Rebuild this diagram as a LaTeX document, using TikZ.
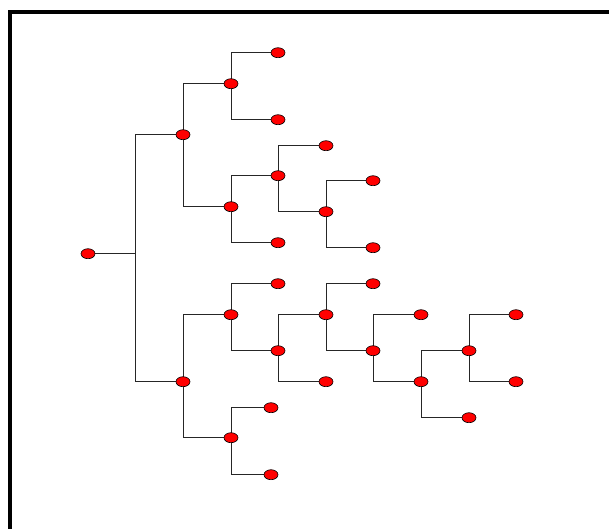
\documentclass[tikz,border=0pt]{standalone}
\usetikzlibrary{shapes.geometric,backgrounds}
\begin{document}
\begin{tikzpicture}[x=1pt,y=-1pt,
  nd/.style={ellipse,draw=black,fill=red,line width=0.6pt,minimum width=14pt,minimum height=10pt,inner sep=0pt},
  edge/.style={draw=black!85,line width=0.8pt}]
\useasboundingbox (0,0) rectangle (609,528);
\draw[line width=4pt,line join=miter] (10,530) -- (10,12) -- (612,12);
\begin{scope}[yshift=-0.7pt]
% nodes
\node[nd] (r) at (88,253) {};
\node[nd] (a1) at (183,134) {};
\node[nd] (a2) at (183,381) {};
\node[nd] (b1) at (231,83) {};
\node[nd] (b2) at (231,206) {};
\node[nd] (b1a) at (278,52) {};
\node[nd] (b1b) at (278,119) {};
\node[nd] (c1) at (278,175) {};
\node[nd] (b2b) at (278,242) {};
\node[nd] (c1a) at (326,145) {};
\node[nd] (d1) at (326,211) {};
\node[nd] (d1a) at (373,180) {};
\node[nd] (d1b) at (373,247) {};
\node[nd] (b3) at (231,314) {};
\node[nd] (b4) at (231,437) {};
\node[nd] (b3a) at (278,283) {};
\node[nd] (c2) at (278,350) {};
\node[nd] (d2) at (326,314) {};
\node[nd] (c2b) at (326,381) {};
\node[nd] (d2a) at (373,283) {};
\node[nd] (e1) at (373,350) {};
\node[nd] (e1a) at (421,314) {};
\node[nd] (f1) at (421,381) {};
\node[nd] (g1) at (469,350) {};
\node[nd] (f1b) at (469,417) {};
\node[nd] (g1a) at (516,314) {};
\node[nd] (g1b) at (516,381) {};
\node[nd] (b4a) at (271,407) {};
\node[nd] (b4b) at (271,474) {};
\coordinate (rm) at (135,253);
\end{scope}
% connectors behind nodes
\begin{pgfonlayer}{background}
\draw[edge] (r.center) -- (rm) |- (a1.center);
\draw[edge] (rm) |- (a2.center);
\foreach \p/\c in {a1/b1,a1/b2,b1/b1a,b1/b1b,b2/c1,b2/b2b,c1/c1a,c1/d1,d1/d1a,d1/d1b,
  a2/b3,a2/b4,b3/b3a,b3/c2,c2/d2,c2/c2b,d2/d2a,d2/e1,e1/e1a,e1/f1,f1/g1,f1/f1b,g1/g1a,g1/g1b,b4/b4a,b4/b4b}
  \draw[edge] (\p.center) |- (\c.center);
\end{pgfonlayer}
\end{tikzpicture}
\end{document}
